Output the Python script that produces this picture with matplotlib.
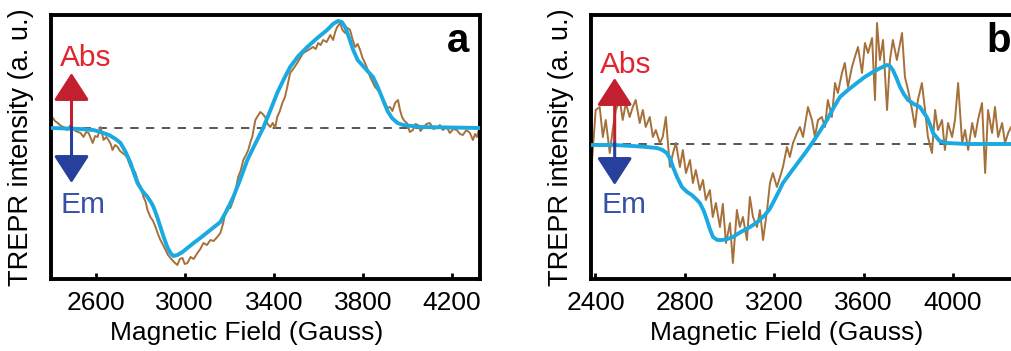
import matplotlib
matplotlib.use("Agg")
from matplotlib import pyplot as plt

plt.rcParams['font.family'] = ['Liberation Sans', 'DejaVu Sans']

# ---- panel a : data (field in Gauss, intensity in a.u.)
brown_a_field = [2405, 2418, 2430, 2445, 2457, 2472, 2488, 2510, 2533, 2546,
                 2558, 2569, 2587, 2598, 2609, 2622, 2636, 2648, 2658, 2668,
                 2676, 2688, 2699, 2710, 2721, 2733, 2743, 2757, 2768, 2779,
                 2790, 2802, 2815, 2825, 2833, 2846, 2858, 2869, 2880, 2891,
                 2903, 2914, 2925, 2936, 2952, 2967, 2978, 2990, 3000, 3012,
                 3026, 3040, 3057, 3070, 3084, 3100, 3115, 3130, 3146, 3160,
                 3173, 3182, 3191, 3205, 3218, 3230, 3240, 3252, 3263, 3275,
                 3285, 3295, 3303, 3317, 3328, 3339, 3350, 3361, 3372, 3384,
                 3395, 3406, 3415, 3427, 3438, 3450, 3460, 3473, 3490, 3505,
                 3518, 3532, 3555, 3576, 3588, 3599, 3610, 3621, 3637, 3653,
                 3666, 3675, 3684, 3697, 3708, 3720, 3731, 3742, 3754, 3765,
                 3776, 3787, 3798, 3809, 3820, 3832, 3843, 3854, 3866, 3877,
                 3888, 3899, 3910, 3921, 3932, 3944, 3957, 3966, 3975, 3986,
                 3997, 4010, 4024, 4035, 4047, 4058, 4069, 4085, 4100, 4116,
                 4132, 4145, 4159, 4175, 4190, 4205, 4221, 4235, 4248, 4264,
                 4280, 4293, 4303, 4311, 4320]
brown_a_int = [11, 7, 5, 2, 1, -2, 3, -3, -5, -9,
               -4, -5, -15, -8, -9, 1, -12, -9, -12, -16,
               -22, -17, -19, -23, -25, -27, -30, -39, -41, -45,
               -53, -59, -69, -74, -82, -89, -93, -99, -106, -112,
               -117, -122, -127, -130, -134, -137, -131, -130, -136, -135,
               -129, -131, -125, -121, -115, -117, -112, -113, -109, -105,
               -95, -84, -79, -80, -72, -60, -49, -42, -32, -27,
               -22, -14, -9, 8, 12, 16, 14, 11, 4, 1,
               5, 0, 11, 17, 25, 31, 41, 55, 60, 65,
               70, 75, 78, 81, 79, 85, 83, 88, 86, 93,
               88, 96, 101, 105, 98, 95, 100, 98, 88, 81,
               84, 78, 70, 65, 59, 51, 46, 41, 38, 35,
               28, 25, 20, 21, 17, 25, 28, 18, 11, 7,
               5, -4, -2, 4, 3, -3, 0, 4, 5, -1,
               0, 3, -2, 1, -5, -1, -2, -6, -7, -2,
               -5, -12, -6, -9, -2]

blue_a_field = [2403, 2530, 2590, 2622, 2660, 2690, 2712, 2735, 2757, 2772,
                2788, 2810, 2833, 2848, 2860, 2875, 2891, 2907, 2922, 2936,
                2949, 2967, 2990, 3012, 3040, 3070, 3115, 3160, 3190, 3218,
                3250, 3281, 3316, 3352, 3385, 3415, 3445, 3473, 3510, 3550,
                3595, 3639, 3665, 3688, 3705, 3720, 3738, 3756, 3776, 3796,
                3820, 3845, 3868, 3890, 3910, 3930, 3955, 3980, 4056, 4325]
blue_a_int = [0, -1, -2, -4, -7, -11, -15, -24, -35, -45,
              -55, -63, -69, -74, -79, -88, -99, -110, -119, -125,
              -128, -127, -124, -120, -115, -110, -102, -94, -82, -69,
              -51, -32, -16, 0, 18, 35, 49, 61, 72, 81,
              90, 98, 104, 107, 106, 101, 90, 78, 68, 63,
              57, 51, 40, 28, 17, 10, 5, 3, 1, 0]

# ---- panel b
brown_b_field = [2381, 2388, 2401, 2419, 2433, 2446, 2464, 2477, 2491, 2509,
                 2522, 2536, 2553, 2567, 2580, 2598, 2612, 2625, 2643, 2657,
                 2670, 2688, 2701, 2715, 2733, 2747, 2760, 2778, 2791, 2805,
                 2823, 2836, 2849, 2867, 2881, 2894, 2912, 2925, 2939, 2957,
                 2970, 2984, 3002, 3015, 3033, 3046, 3060, 3078, 3091, 3105,
                 3123, 3136, 3150, 3168, 3181, 3194, 3212, 3226, 3239, 3257,
                 3270, 3284, 3302, 3315, 3329, 3351, 3369, 3382, 3396, 3413,
                 3427, 3440, 3458, 3472, 3485, 3503, 3516, 3530, 3548, 3561,
                 3575, 3593, 3606, 3620, 3638, 3651, 3660, 3673, 3687, 3705,
                 3718, 3731, 3749, 3772, 3785, 3799, 3817, 3830, 3843, 3861,
                 3875, 3888, 3906, 3920, 3933, 3951, 3964, 3978, 3996, 4009,
                 4023, 4041, 4054, 4068, 4086, 4099, 4112, 4130, 4144, 4157,
                 4175, 4188, 4202, 4220, 4233, 4247, 4260, 4275, 4290]
brown_b_int = [-26, -6, 34, 37, 7, 24, -9, 14, 34, 44,
               24, 41, 27, 37, 44, 21, 34, 17, 27, 7,
               14, 1, 7, 27, -23, -9, 1, -23, -6, -29,
               -16, -39, -26, -46, -36, -56, -46, -73, -59, -83,
               -60, -99, -79, -119, -66, -83, -73, -96, -53, -73,
               -83, -66, -96, -66, -39, -29, -43, -33, -23, -3,
               -13, 1, 11, 17, 7, 37, 24, 7, 24, 27,
               17, 44, 27, 61, 51, 71, 81, 57, 77, 87,
               97, 71, 101, 91, 106, 44, 121, 84, 104, 34,
               84, 104, 84, 111, 67, 54, 34, 17, 44, 61,
               34, 7, -9, 34, 14, 24, -6, 21, 7, 24,
               61, 1, 14, -6, 21, 7, 24, 41, -29, 34,
               11, 37, 7, 21, 1, 11, 17, 8, -3]

blue_b_field = [2380, 2480, 2567, 2630, 2675, 2700, 2719, 2735, 2747, 2765,
                2787, 2810, 2831, 2850, 2867, 2885, 2899, 2912, 2926, 2945,
                2966, 2990, 3015, 3050, 3092, 3125, 3158, 3180, 3194, 3215,
                3239, 3275, 3315, 3345, 3373, 3405, 3436, 3465, 3494, 3530,
                3570, 3605, 3642, 3675, 3705, 3718, 3731, 3747, 3763, 3780,
                3799, 3825, 3852, 3870, 3883, 3898, 3911, 3940, 3973, 4063,
                4300]
blue_b_int = [-1, -1, -2, -3, -4, -6, -9, -15, -23, -33,
              -43, -48, -51, -55, -59, -67, -76, -85, -93, -96,
              -96, -95, -93, -88, -83, -78, -71, -65, -59, -50,
              -39, -28, -16, -7, 2, 13, 24, 36, 47, 54,
              61, 67, 72, 76, 79, 78, 74, 66, 57, 50,
              44, 40, 37, 31, 27, 19, 11, 3, 1, 0,
              0]

ticks_a = [2600, 3000, 3400, 3800, 4200]
ticks_b = [2400, 2800, 3200, 3600, 4000]

brown = '#A5703A'
cyan = '#1BA9E1'
head = '-|>,head_length=0.85,head_width=0.55'


def panel(ax, bf, bi, cf, ci, xlim, ylim, ticks, letter, ax_x, up_tip, down_tip,
          abs_xy, em_xy):
    ax.axhline(0, color='#3a3a3a', lw=1.2, dashes=(5, 4.5), zorder=1)
    ax.plot(bf, bi, color=brown, lw=1.4, zorder=2)
    ax.plot(cf, ci, color=cyan, lw=2.8, zorder=3, solid_joinstyle='round',
            solid_capstyle='round')
    ax.annotate('', xy=(ax_x, up_tip), xytext=(ax_x, -1),
                arrowprops=dict(arrowstyle=head, mutation_scale=20,
                                color='#C21F2F', lw=2.2, shrinkA=0, shrinkB=0),
                zorder=4)
    ax.annotate('', xy=(ax_x, down_tip), xytext=(ax_x, 1),
                arrowprops=dict(arrowstyle=head, mutation_scale=20,
                                color='#26409B', lw=2.2, shrinkA=0, shrinkB=0),
                zorder=4)
    ax.text(abs_xy[0], abs_xy[1], 'Abs', color='#E3242E', fontsize=21.5,
            ha='center', va='center')
    ax.text(em_xy[0], em_xy[1], 'Em', color='#3550A8', fontsize=21.5,
            ha='center', va='center')
    ax.text(0.95, 0.9, letter, transform=ax.transAxes, fontsize=29,
            fontweight='bold', ha='center', va='center')
    ax.set_xlim(xlim)
    ax.set_ylim(ylim)
    ax.set_xticks(ticks)
    ax.set_yticks([])
    ax.tick_params(axis='x', direction='in', length=4, width=2, labelsize=19,
                   pad=9)
    for s in ax.spines.values():
        s.set_linewidth(2.8)
    ax.set_xlabel('Magnetic Field (Gauss)', fontsize=19)
    ax.xaxis.set_label_coords(0.457, -0.159)
    ax.set_ylabel('TREPR intensity (a. u.)', fontsize=19.5)
    ax.yaxis.set_label_coords(-0.04, 0.5)


fig = plt.figure(figsize=(10.11, 3.51), dpi=100)
ax_a = fig.add_axes([51 / 1011, 72 / 351, 429 / 1011, 264 / 351])
ax_b = fig.add_axes([591 / 1011, 72 / 351, 429 / 1011, 264 / 351])

panel(ax_a, brown_a_field, brown_a_int, blue_a_field, blue_a_int,
      (2400, 4325), (-151, 113), ticks_a, 'a', 2492, 55, -55,
      (2555, 70), (2542, -77))
panel(ax_b, brown_b_field, brown_b_int, blue_b_field, blue_b_int,
      (2380, 4300), (-135, 129), ticks_b, 'b', 2486, 66, -41,
      (2536, 79), (2527, -61))

fig.savefig('out.png', dpi=100)
